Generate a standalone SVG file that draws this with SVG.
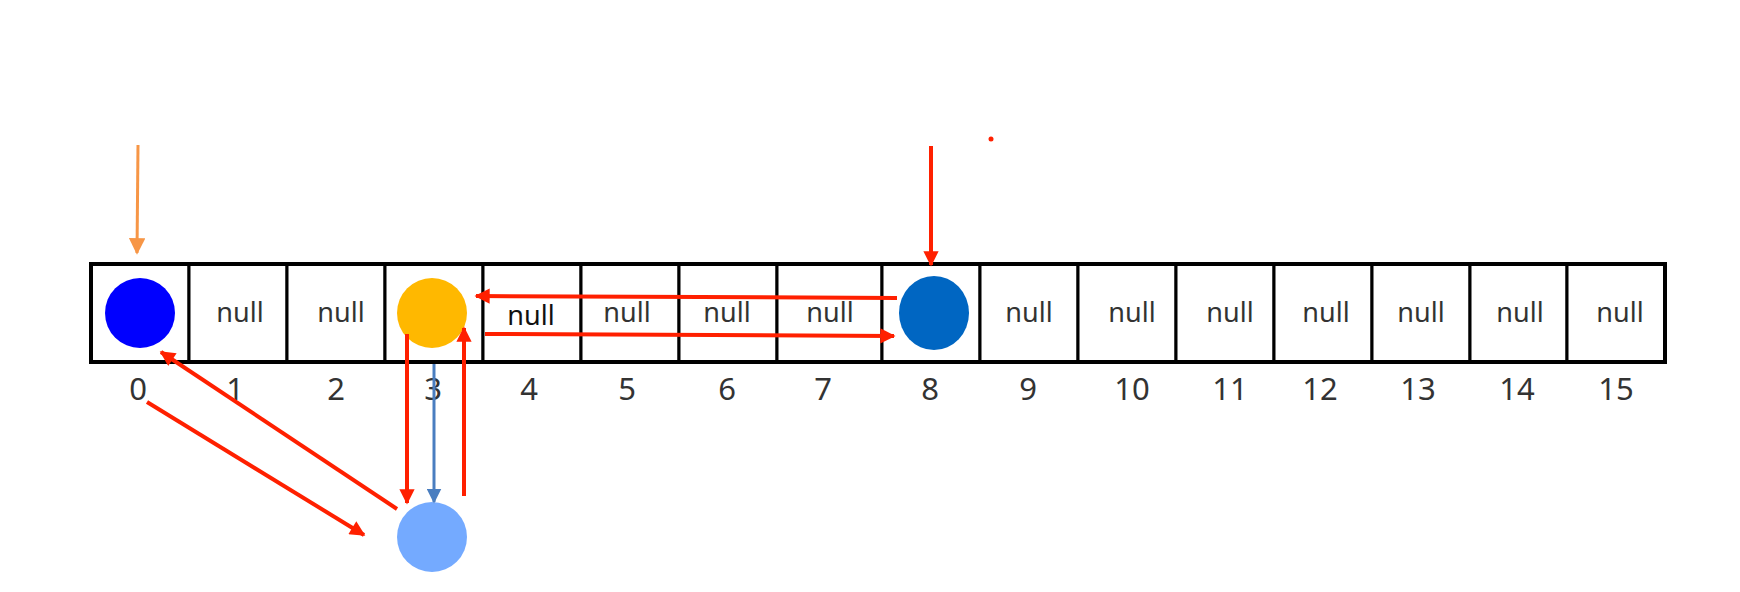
<svg xmlns="http://www.w3.org/2000/svg" width="1740" height="592" viewBox="0 0 1740 592">
<style>
.cell{fill:#fff;stroke:#000;stroke-width:3}
.null{font-family:"Noto Sans","Open Sans",sans-serif;font-size:27px;fill:#333;text-anchor:middle}
.idx{font-family:"Noto Sans","Open Sans",sans-serif;font-size:31px;fill:#333;text-anchor:middle}
.red{stroke:#FF2000;stroke-width:4;fill:none;marker-end:url(#ah-red)}
</style>
<defs>
<marker id="ah-red" viewBox="0 0 10 10" refX="9" refY="5" markerWidth="4.2" markerHeight="3.8" orient="auto" markerUnits="strokeWidth"><path d="M0,0 L10,5 L0,10 z" fill="#FF2000"/></marker>
<marker id="ah-orange" viewBox="0 0 10 10" refX="9" refY="5" markerWidth="5.5" markerHeight="5.5" orient="auto" markerUnits="strokeWidth"><path d="M0,0 L10,5 L0,10 z" fill="#F79646"/></marker>
<marker id="ah-blue" viewBox="0 0 10 10" refX="9" refY="5" markerWidth="5" markerHeight="5" orient="auto" markerUnits="strokeWidth"><path d="M0,0 L10,5 L0,10 z" fill="#4A7EC0"/></marker>
</defs>
<rect width="1740" height="592" fill="#fff"/>
<g id="array">
<rect class="cell" x="91" y="264" width="98" height="98"/>
<rect class="cell" x="189" y="264" width="98" height="98"/>
<rect class="cell" x="287" y="264" width="98" height="98"/>
<rect class="cell" x="385" y="264" width="98" height="98"/>
<rect class="cell" x="483" y="264" width="98" height="98"/>
<rect class="cell" x="581" y="264" width="98" height="98"/>
<rect class="cell" x="679" y="264" width="98" height="98"/>
<rect class="cell" x="777" y="264" width="105" height="98"/>
<rect class="cell" x="882" y="264" width="98" height="98"/>
<rect class="cell" x="980" y="264" width="98" height="98"/>
<rect class="cell" x="1078" y="264" width="98" height="98"/>
<rect class="cell" x="1176" y="264" width="98" height="98"/>
<rect class="cell" x="1274" y="264" width="98" height="98"/>
<rect class="cell" x="1372" y="264" width="98" height="98"/>
<rect class="cell" x="1470" y="264" width="97" height="98"/>
<rect class="cell" x="1567" y="264" width="98" height="98"/>
<rect x="91" y="264" width="1574" height="98" fill="none" stroke="#000" stroke-width="4"/>
</g>
<g id="nulls">
<text class="null" x="240" y="322">null</text>
<text class="null" x="341" y="322">null</text>
<text class="null" x="531" y="325" style="fill:#111">null</text>
<text class="null" x="627" y="322">null</text>
<text class="null" x="727" y="322">null</text>
<text class="null" x="830" y="322">null</text>
<text class="null" x="1029" y="322">null</text>
<text class="null" x="1132" y="322">null</text>
<text class="null" x="1230" y="322">null</text>
<text class="null" x="1326" y="322">null</text>
<text class="null" x="1421" y="322">null</text>
<text class="null" x="1520" y="322">null</text>
<text class="null" x="1620" y="322">null</text>
</g>
<g id="indices">
<text class="idx" x="138" y="400">0</text>
<text class="idx" x="235" y="400">1</text>
<text class="idx" x="336" y="400">2</text>
<text class="idx" x="433" y="400">3</text>
<text class="idx" x="529" y="400">4</text>
<text class="idx" x="627" y="400">5</text>
<text class="idx" x="727" y="400">6</text>
<text class="idx" x="823" y="400">7</text>
<text class="idx" x="930" y="400">8</text>
<text class="idx" x="1028" y="400">9</text>
<text class="idx" x="1132" y="400">10</text>
<text class="idx" x="1230" y="400">11</text>
<text class="idx" x="1320" y="400">12</text>
<text class="idx" x="1418" y="400">13</text>
<text class="idx" x="1517" y="400">14</text>
<text class="idx" x="1616" y="400">15</text>
</g>
<g id="node0"><circle cx="140" cy="313" r="35" fill="#0000FF"/></g>
<g id="node3"><circle cx="432" cy="313" r="35" fill="#FFB800"/></g>
<g id="node8"><ellipse cx="934" cy="313" rx="35" ry="37" fill="#0066C2"/></g>
<g id="nodeNew"><circle cx="432" cy="537" r="35" fill="#74AAFF"/></g>
<g id="connectors">
<line x1="138" y1="145" x2="137" y2="253" stroke="#F79646" stroke-width="3" marker-end="url(#ah-orange)"/>
<line class="red" x1="931" y1="146" x2="931" y2="265"/>
<line class="red" x1="897" y1="298" x2="476" y2="296"/>
<line class="red" x1="485" y1="334" x2="894" y2="336"/>
<line class="red" x1="407" y1="334" x2="407" y2="503"/>
<line x1="434" y1="364" x2="434" y2="502" stroke="#4A7EC0" stroke-width="3" marker-end="url(#ah-blue)"/>
<line class="red" x1="464" y1="496" x2="464" y2="328"/>
<line class="red" x1="397" y1="509" x2="161" y2="352"/>
<line class="red" x1="147" y1="402" x2="364" y2="535"/>
<circle cx="991" cy="139" r="2.5" fill="#FF2000"/>
</g>
</svg>
